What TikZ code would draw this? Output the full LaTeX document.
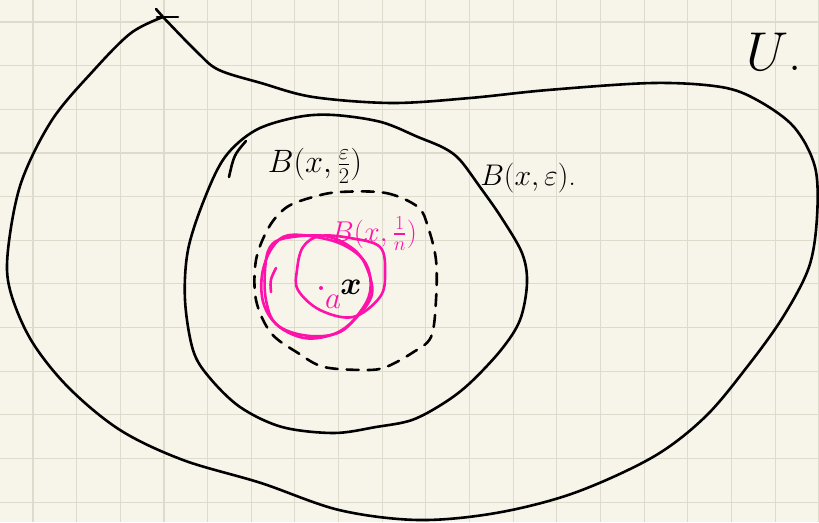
\documentclass[tikz,border=0pt]{standalone}
\usepackage{amsmath, amssymb}
\usepackage{graphicx}
\usepackage{xcolor}
\usepackage{tikz}
\definecolor{paper}{HTML}{F7F5E9}
\definecolor{gridc}{HTML}{DDDBCC}
\definecolor{hotpink}{HTML}{FF12A9}
\newcommand{\hand}[2]{\scalebox{#1}{#2}}

\begin{document}
\begin{tikzpicture}[x=1pt, y=-1pt,
        ink/.style={line width=2.6pt, line cap=round, line join=round},
        dashring/.style={ink, dash pattern=on 12pt off 9pt},
        pinkink/.style={ink, draw=hotpink},
        lab/.style={inner sep=0pt, font=\fontsize{24}{26}\selectfont}
    ]
        \fill[paper] (0,0) rectangle (819,522);
        \useasboundingbox (0,0) rectangle (819,522);
        % squared paper
        \foreach \i in {0,...,18}
            \draw[gridc, line width=1.1pt] ({33+43.65*\i},0) -- ++(0,522);
        \foreach \j in {0,...,11}
            \draw[gridc, line width=1.1pt] (0,{22+43.65*\j}) -- ++(819,0);

        % the open set U
        \draw[ink] plot[smooth, tension=0.55] coordinates {
            (163,17) (198,53) (219,70) (261,83) (313,97) (392,103) (470,98)
            (548,90) (653,83) (721,87) (757,100) (794,127) (815,167) (817,217)
            (809,267) (783,317) (747,367) (705,417) (653,457) (574,493)
            (496,513) (418,520) (339,510) (261,483) (183,460) (120,430)
            (68,387) (31,340) (10,290) (8,250) (21,183) (52,120) (94,70)
            (131,33) (163,17)};
        \draw[ink] (157,17) -- (178,17);
        \draw[ink] (156,9) -- (163,17);
        \node[lab] (uset) at (774,52) {\hand{2.2}{$U$.}};

        % B(x,eps)
        \draw[ink] plot[smooth cycle, tension=0.55] coordinates {
            (334,115) (381,122) (418,137) (444,148) (460,160) (480,187)
            (501,217) (522,253) (527,283) (520,320) (501,350) (470,383)
            (444,403) (412,420) (376,427) (334,433) (282,427) (240,407)
            (209,377) (193,350) (185,300) (188,250) (204,200) (225,157)
            (256,130) (298,117)};
        \draw[ink] (246,141) .. controls (234,155) .. (229,177);
        \node[lab] (beps) at (528,178) {\hand{1.2}{$B(x,\varepsilon)$.}};

        % B(x,eps/2)
        \draw[dashring] plot[smooth cycle, tension=0.55] coordinates {
            (340,192) (386,193) (418,207) (428,227) (436,260) (436,300)
            (431,337) (412,353) (386,367) (366,370) (324,367) (298,353)
            (271,333) (256,300) (256,260) (269,227) (287,207) (313,197)};
        \node[lab] (bhalf) at (315,166) {\hand{1.3}{$B(x,\frac{\varepsilon}{2})$}};

        % B(x,1/n)
        \draw[pinkink] plot[smooth cycle, tension=0.6] coordinates {
            (290,235) (330,240) (355,252) (368,268) (370,292) (360,312)
            (340,332) (310,336) (280,327) (264,305) (262,275) (272,248)};
        \draw[pinkink] plot[smooth cycle, tension=0.6] coordinates {
            (286,238) (325,236) (352,248) (366,266) (372,294) (356,318)
            (334,334) (304,338) (276,324) (266,300) (265,270) (270,247)};
        \draw[pinkink] plot[smooth cycle, tension=0.6] coordinates {
            (303,247) (320,236) (350,238) (380,247) (385,273) (380,297)
            (353,317) (320,310) (298,290) (297,270)};
        \draw[pinkink] (276,268) .. controls (270,280) .. (271,292);
        \node[lab, text=hotpink] (bn) at (374,234) {\hand{1.15}{$B(x,\frac{1}{n})$}};

        % the points a and x
        \fill[hotpink] (321,288) circle (2pt);
        \node[lab, text=hotpink] (pa) at (333,302) {\hand{1.25}{$a$}};
        \node[lab] (px) at (351,287) {\hand{1.3}{$\boldsymbol{x}$}};
    \end{tikzpicture}
\end{document}
